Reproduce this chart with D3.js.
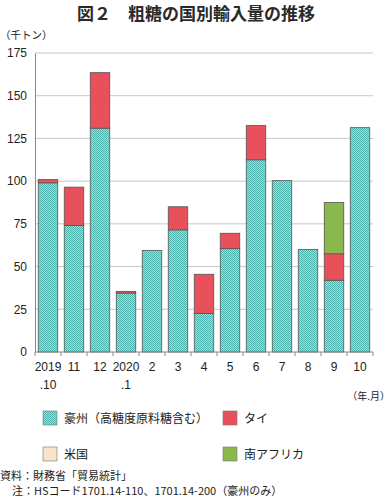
<!DOCTYPE html>
<html><head><meta charset="utf-8">
<script src="https://cdn.jsdelivr.net/npm/d3@7"></script>
<style>
body{margin:0;background:#fff;}
svg{display:block;font-family:"Noto Sans CJK JP","Noto Sans",sans-serif;}
</style></head>
<body><svg id="c" width="390" height="498"></svg>
<script>
const months = ["2019\n.10","11","12","2020\n.1","2","3","4","5","6","7","8","9","10"];
const australia = [99, 74, 131, 34.5, 59.5, 71.5, 22.5, 60.5, 112.5, 100.3, 60, 42, 131.3];
const thailand  = [2, 22.5, 32.5, 1, 0, 13.5, 23, 9, 20, 0, 0, 15.5, 0];
const usa       = [0, 0, 0, 0, 0, 0, 0, 0, 0, 0, 0, 0, 0];
const safrica   = [0, 0, 0, 0, 0, 0, 0, 0, 0, 0, 0, 30, 0];
const yTicks = [0, 25, 50, 75, 100, 125, 150, 175];
const seriesNames = ["豪州（高糖度原料糖含む）","タイ","米国","南アフリカ"];
const seriesKeys = ["aus","tha","usa","saf"];

const svg = d3.select("#c");
const defs = svg.append("defs");
const pat = defs.append("pattern").attr("id","tealpat").attr("width",2).attr("height",2)
  .attr("patternUnits","userSpaceOnUse");
pat.append("rect").attr("width",2).attr("height",2).attr("fill","#9fdcd8");
pat.append("rect").attr("width",1).attr("height",1).attr("fill","#4fb3ae");
pat.append("rect").attr("x",1).attr("y",1).attr("width",1).attr("height",1).attr("fill","#4fb3ae");

const colors = {aus:"url(#tealpat)", tha:"#e8505b", usa:"#fbe3c9", saf:"#8ab84e"};

const m = {l:35, r:373, t:53, b:352};
const x = d3.scaleBand().domain(months).range([m.l, m.r]).paddingInner(0.25).paddingOuter(0.125);
const y = d3.scaleLinear().domain([0,175]).range([m.b, m.t]);

const table = months.map((mo,i)=>({month:mo, aus:australia[i], tha:thailand[i], usa:usa[i], saf:safrica[i]}));
const stacked = d3.stack().keys(seriesKeys)(table);

const jp = "Noto Sans CJK JP, Noto Sans, sans-serif";

// title
svg.append("text").attr("x",196).attr("y",20).attr("text-anchor","middle")
  .attr("font-size",17).attr("font-weight","bold").attr("fill","#2a2a2a").attr("font-family",jp)
  .text("図２　粗糖の国別輸入量の推移");
svg.append("text").attr("x",0).attr("y",39).attr("font-size",10.5).attr("fill","#222").attr("font-family",jp).text("（千トン）");

// gridlines
svg.append("g").selectAll("line").data(yTicks.filter(d=>d>0)).join("line")
  .attr("x1",m.l).attr("x2",m.r).attr("y1",d=>y(d)).attr("y2",d=>y(d))
  .attr("stroke","#c8c8c8").attr("stroke-width",1);

// y axis
const ya = svg.append("g").attr("transform",`translate(${m.l},0)`)
  .call(d3.axisLeft(y).tickValues(yTicks).tickSize(0).tickPadding(8));
ya.select(".domain").attr("stroke","#888");
ya.selectAll("text").attr("font-size",12).attr("fill","#222").attr("font-family","Liberation Sans, Arial, sans-serif");

// bars
svg.append("g").selectAll("g").data(stacked).join("g")
  .attr("fill",d=>colors[d.key])
  .selectAll("rect").data(d=>d.filter(v=>v[1]-v[0]>0)).join("rect")
  .attr("x",d=>x(d.data.month)).attr("width",x.bandwidth())
  .attr("y",d=>y(d[1])).attr("height",d=>y(d[0])-y(d[1]))
  .attr("stroke","#555").attr("stroke-width",0.8);

// x axis
const xa = svg.append("g").attr("transform",`translate(0,${m.b})`)
  .call(d3.axisBottom(x).tickSize(0).tickFormat(""));
xa.select(".domain").attr("stroke","#888").attr("d",`M${m.l},0H${m.r}`);
const step = x.step();
svg.append("g").selectAll("line").data(d3.range(0,14)).join("line")
  .attr("x1",i=>m.l+i*step).attr("x2",i=>m.l+i*step)
  .attr("y1",m.b).attr("y2",m.b+4).attr("stroke","#888");
const xl = svg.append("g").selectAll("text").data(months).join("text")
  .attr("x",d=>x(d)+x.bandwidth()/2).attr("y",m.b+19)
  .attr("text-anchor","middle").attr("font-size",12).attr("fill","#222")
  .attr("font-family","Liberation Sans, Arial, sans-serif");
xl.each(function(d){
  const parts = d.split("\n");
  const t = d3.select(this);
  parts.forEach((p,i)=>t.append("tspan").attr("x",x(d)+x.bandwidth()/2).attr("dy",i?18:0).text(p));
});
svg.append("text").attr("x",390).attr("y",400).attr("text-anchor","end")
  .attr("font-size",10).attr("fill","#222").attr("font-family",jp).text("（年.月）");

// legend
const legPos = [[43,411],[223,411],[43,447],[223,447]];
const lg = svg.append("g").selectAll("g").data(seriesKeys).join("g")
  .attr("transform",(d,i)=>`translate(${legPos[i][0]},${legPos[i][1]})`);
lg.append("rect").attr("width",14).attr("height",14).attr("fill",d=>colors[d])
  .attr("stroke","#777").attr("stroke-width",0.6);
lg.append("text").attr("x",21).attr("y",12).attr("font-size",12).attr("fill","#222").attr("font-family",jp)
  .text((d,i)=>seriesNames[i]);

// notes
svg.append("text").attr("x",0).attr("y",480).attr("font-size",11).attr("fill","#222").attr("font-family",jp)
  .text("資料：財務省「貿易統計」");
svg.append("text").attr("x",12).attr("y",495).attr("font-size",11).attr("fill","#222").attr("font-family",jp)
  .text("注：HSコード1701.14-110、1701.14-200（豪州のみ）");
</script></body></html>
